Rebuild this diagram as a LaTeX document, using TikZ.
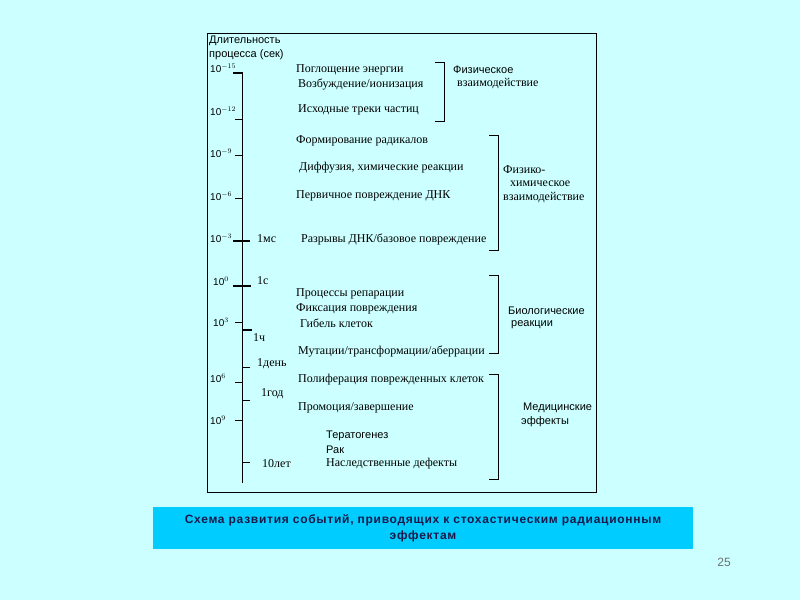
\documentclass[tikz,border=0pt]{standalone}
\usepackage{fontspec}
\setmainfont{Liberation Serif}
\newfontfamily\arialfont{Liberation Sans}
\newfontfamily\capfont[LetterSpace=6]{Liberation Sans}
\definecolor{slidebg}{HTML}{CCFFFF}
\definecolor{capfill}{HTML}{00CCFF}
\definecolor{captext}{HTML}{1A1A4A}
\definecolor{pagegray}{HTML}{707070}

\begin{document}
\begin{tikzpicture}
[x=1pt,y=-1pt,every node/.style={inner sep=0pt,anchor=west,font=\fontsize{12}{14}\selectfont},
 lbl/.style={font=\arialfont\fontsize{11}{13}\selectfont},
 pow/.style={font=\arialfont\fontsize{10}{12}\selectfont},
 tick/.style={line width=0.8pt},
 bigtick/.style={line width=2pt}]
\fill[slidebg] (0,0) rectangle (800,600);
\useasboundingbox (0,0) rectangle (800,600);
\draw[line width=1pt] (207,33) rectangle (596,492);
% time axis
\node[lbl] (t1) at (209,41) {Длительность};
\node[lbl] (t2) at (209,55) {процесса (сек)};
\draw[line width=1pt] (242,72) -- (242,483);
\node[pow] (e1) at (210,68) {10$^{-15}$};
\node[pow] (e2) at (210,111) {10$^{-12}$};
\node[pow] (e3) at (210,153) {10$^{-9}$};
\node[pow] (e4) at (210,196) {10$^{-6}$};
\node[pow] (e5) at (210,238) {10$^{-3}$};
\node[pow] (e6) at (213,281) {10$^{0}$};
\node[pow] (e7) at (213,322) {10$^{3}$};
\node[pow] (e8) at (210,378) {10$^{6}$};
\node[pow] (e9) at (210,420) {10$^{9}$};
\foreach \y in {119,155,198,322,382,420}
  \draw[tick] (235,\y) -- (242,\y);
\foreach \y in {367,400,462}
  \draw[tick] (242,\y) -- (250,\y);
\draw[bigtick] (233,73) -- (242,73);
\draw[bigtick] (233,241) -- (250,241);
\draw[bigtick] (233,286) -- (251,286);
\draw[bigtick] (242,330) -- (252,330);
\node (u1) at (257,239) {1мс};
\node (u2) at (257,281) {1с};
\node (u3) at (253,338) {1ч};
\node (u4) at (257,364) {1день};
\node (u5) at (261,394) {1год};
\node (u6) at (262,464) {10лет};
% events
\node (a1) at (296,70) {Поглощение энергии};
\node (a2) at (298,84) {Возбуждение/ионизация};
\node (a3) at (298,110) {Исходные треки частиц};
\node (b1) at (296,141) {Формирование радикалов};
\node (b2) at (299,168) {Диффузия, химические реакции};
\node (b3) at (296,196) {Первичное повреждение ДНК};
\node (b4) at (301,239) {Разрывы ДНК/базовое повреждение};
\node (c1) at (296,294) {Процессы репарации};
\node (c2) at (296,309) {Фиксация повреждения};
\node (c3) at (300,323) {Гибель клеток};
\node (c4) at (298,351) {Мутации/трансформации/аберрации};
\node (d1) at (298,380) {Полиферация поврежденных клеток};
\node (d2) at (298,408) {Промоция/завершение};
\node[lbl] (d3) at (326,436) {Тератогенез};
\node[lbl] (d4) at (326,450) {Рак};
\node (d5) at (326,464) {Наследственные дефекты};
% stages
\draw[line width=1pt] (435,62) -- (444,62) -- (444,121) -- (435,121);
\draw[line width=1pt] (489,135) -- (498,135) -- (498,250) -- (489,250);
\draw[line width=1pt] (489,275) -- (498,275) -- (498,353) -- (489,353);
\draw[line width=1pt] (489,374) -- (498,374) -- (498,479) -- (489,479);
\node[lbl] (s1) at (453,70) {Физическое};
\node (s2) at (457,84) {взаимодействие};
\node (s3) at (503,170) {Физико-};
\node (s4) at (510,184) {химическое};
\node (s5) at (503,198) {взаимодействие};
\node[lbl] (s6) at (508,311) {Биологические};
\node[lbl] (s7) at (511,325) {реакции};
\node[lbl] (s8) at (523,408) {Медицинские};
\node[lbl] (s9) at (521,422) {эффекты};
% caption
\fill[capfill] (153,507) rectangle (693,549);
\node[anchor=center,align=center,text=captext,font=\capfont\bfseries\fontsize{12}{16}\selectfont] (cap) at (423,528)
  {Схема развития событий, приводящих к стохастическим радиационным\\эффектам};
\node[anchor=center,text=pagegray,font=\arialfont\fontsize{12}{14}\selectfont] (pg) at (724,562) {25};
\end{tikzpicture}
\end{document}
